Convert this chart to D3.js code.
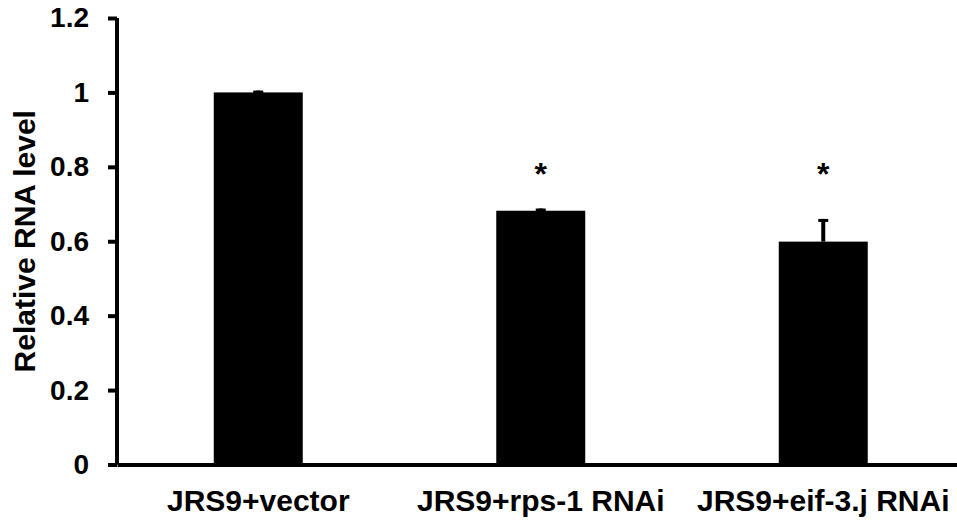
<!DOCTYPE html>
<html>
<head>
<meta charset="utf-8">
<script src="https://cdn.jsdelivr.net/npm/d3@7"></script>
<style>
  body { margin: 0; background: #fff; }
  svg { display: block; font-family: "Liberation Sans", Arial, sans-serif; font-weight: bold; }
</style>
</head>
<body>
<svg id="chart" width="957" height="521"></svg>
<script>
// data
const groups = ["JRS9+vector", "JRS9+rps-1 RNAi", "JRS9+eif-3.j RNAi"];
const values = [1.0, 0.682, 0.599];
const errors = [0.005, 0.006, 0.061];
const marks = ["", "*", "*"];
const yTicks = [0, 0.2, 0.4, 0.6, 0.8, 1, 1.2];

const svg = d3.select("#chart");

const x = d3.scaleBand()
  .domain(groups)
  .range([117, 964.5])
  .paddingInner(0.685)
  .paddingOuter(0.3425);

const y = d3.scaleLinear()
  .domain([0, 1.2])
  .range([464.5, 18]);

// bars
svg.selectAll("rect.bar")
  .data(groups)
  .enter()
  .append("rect")
  .attr("class", "bar")
  .attr("x", d => x(d))
  .attr("y", (d, i) => y(values[i]))
  .attr("width", x.bandwidth())
  .attr("height", (d, i) => y(0) - y(values[i]))
  .attr("fill", "#000");

// error bars (upper part)
const err = svg.append("g").attr("stroke", "#000").attr("stroke-width", 4);
groups.forEach((g, i) => {
  const cx = x(g) + x.bandwidth() / 2;
  const top = y(values[i] + errors[i]);
  err.append("line")
    .attr("x1", cx).attr("x2", cx)
    .attr("y1", y(values[i])).attr("y2", top);
  err.append("line")
    .attr("x1", cx - 5).attr("x2", cx + 5)
    .attr("y1", top + 1.5).attr("y2", top + 1.5)
    .attr("stroke-width", 3);
});

// significance stars
svg.selectAll("text.star")
  .data(groups)
  .enter()
  .append("text")
  .attr("class", "star")
  .attr("x", d => x(d) + x.bandwidth() / 2)
  .attr("y", y(0.75))
  .attr("text-anchor", "middle")
  .attr("font-size", 32)
  .text((d, i) => marks[i]);

// y axis
const yAxis = svg.append("g")
  .attr("transform", "translate(117,0)")
  .call(d3.axisLeft(y).tickValues(yTicks).tickSize(9).tickPadding(19)
    .tickFormat(d => d3.format("")(d)));
yAxis.select(".domain").attr("stroke-width", 4).attr("d", `M0,${y(1.2)}V${y(0)}`);
yAxis.selectAll(".tick line").attr("stroke-width", 4);
yAxis.selectAll(".tick text").attr("font-size", 28).attr("fill", "#000");

// x axis
const xAxis = svg.append("g")
  .attr("transform", `translate(0,${y(0)})`)
  .call(d3.axisBottom(x).tickSize(0).tickPadding(25));
xAxis.select(".domain").attr("stroke-width", 4);
xAxis.selectAll(".tick text").attr("font-size", 30).attr("fill", "#000");

// y title
svg.append("text")
  .attr("transform", `translate(35,${(y(0) + y(1.2)) / 2}) rotate(-90)`)
  .attr("text-anchor", "middle")
  .attr("font-size", 30)
  .text("Relative RNA level");
</script>
</body>
</html>
